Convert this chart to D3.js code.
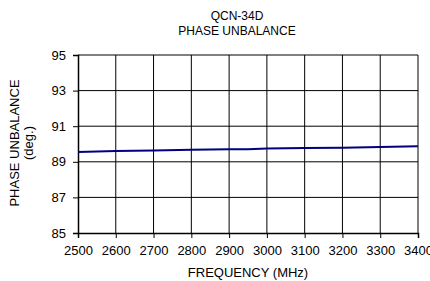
<!DOCTYPE html>
<html>
<head>
<meta charset="utf-8">
<script src="https://cdn.jsdelivr.net/npm/d3@7"></script>
<style>
  body { margin: 0; background: #fff; }
  svg text { font-family: "Liberation Sans", Arial, sans-serif; fill: #000; }
</style>
</head>
<body>
<div id="chart"></div>
<script>
// data
const freqs = [2500, 2600, 2700, 2800, 2900, 2950, 3000, 3100, 3200, 3300, 3400];
const phase = [89.55, 89.60, 89.64, 89.68, 89.70, 89.70, 89.75, 89.77, 89.79, 89.83, 89.88];
const xTicks = [2500, 2600, 2700, 2800, 2900, 3000, 3100, 3200, 3300, 3400];
const yTicks = [85, 87, 89, 91, 93, 95];
const titleLines = ['QCN-34D', 'PHASE UNBALANCE'];

const W = 430, H = 281;
const margin = { top: 55, right: 12, bottom: 48, left: 78 };
const width = W - margin.left - margin.right;
const height = H - margin.top - margin.bottom;

const svg = d3.select('#chart').append('svg')
    .attr('width', W)
    .attr('height', H);

const g = svg.append('g')
    .attr('transform', `translate(${margin.left},${margin.top})`);

const x = d3.scaleLinear().domain([2500, 3400]).range([0, width]);
const y = d3.scaleLinear().domain([85, 95]).range([height, 0]);

// grid
g.append('g')
    .selectAll('line')
    .data(xTicks.slice(1))
    .join('line')
    .attr('x1', d => x(d)).attr('x2', d => x(d))
    .attr('y1', 0).attr('y2', height)
    .attr('stroke', '#000').attr('stroke-width', 1);

g.append('g')
    .selectAll('line')
    .data(yTicks.slice(1))
    .join('line')
    .attr('x1', 0).attr('x2', width)
    .attr('y1', d => y(d)).attr('y2', d => y(d))
    .attr('stroke', '#000').attr('stroke-width', 1);

// axes
const xAxis = g.append('g')
    .attr('transform', `translate(0,${height})`)
    .call(d3.axisBottom(x).tickValues(xTicks).tickFormat(d3.format('d')).tickSize(5).tickPadding(8));

const yAxis = g.append('g')
    .call(d3.axisLeft(y).tickValues(yTicks).tickSize(5).tickPadding(7));

[xAxis, yAxis].forEach(a => {
    a.select('.domain').attr('stroke', '#000').attr('stroke-width', 1.5);
    a.selectAll('.tick line').attr('stroke', '#000');
    a.selectAll('.tick text')
        .style('font-family', '"Liberation Sans", Arial, sans-serif')
        .style('font-size', '13px')
        .attr('fill', '#000');
});

// data line
g.append('path')
    .datum(freqs.map((f, i) => ({ f, v: phase[i] })))
    .attr('fill', 'none')
    .attr('stroke', '#000080')
    .attr('stroke-width', 2)
    .attr('d', d3.line()
        .x(d => x(d.f))
        .y(d => y(d.v))
    );

// title
svg.append('text')
    .attr('x', 237)
    .attr('text-anchor', 'middle')
    .style('font-size', '12px')
    .selectAll('tspan')
    .data(titleLines)
    .join('tspan')
    .attr('x', 237)
    .attr('y', (d, i) => 20 + i * 15)
    .text(d => d);

// axis labels
svg.append('text')
    .attr('x', margin.left + width / 2)
    .attr('y', 277)
    .attr('text-anchor', 'middle')
    .style('font-size', '13px')
    .text('FREQUENCY (MHz)');

svg.append('text')
    .attr('transform', 'translate(19,143) rotate(-90)')
    .attr('text-anchor', 'middle')
    .style('font-size', '13px')
    .text('PHASE UNBALANCE');

svg.append('text')
    .attr('transform', 'translate(33,143) rotate(-90)')
    .attr('text-anchor', 'middle')
    .style('font-size', '13px')
    .text('(deg.)');
</script>
</body>
</html>
